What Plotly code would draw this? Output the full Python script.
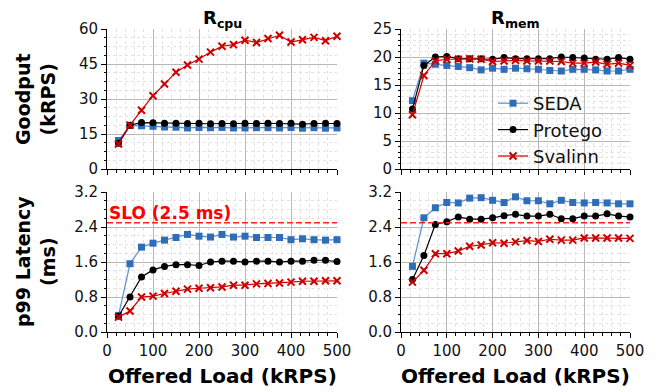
import plotly.graph_objects as go

load = [25, 50, 75, 100, 125, 150, 175, 200, 225, 250, 275, 300, 325, 350, 375, 400, 425, 450, 475, 500]

# Goodput (kRPS) - R_cpu
cpu_good_seda = [12.2, 18.7, 18.5, 18.3, 18.0, 17.9, 17.6, 17.8, 17.7, 17.8, 17.6, 17.6, 17.7, 17.7, 17.6, 17.8, 17.5, 17.7, 17.5, 17.6]
cpu_good_protego = [11.0, 18.8, 19.9, 19.8, 19.6, 19.6, 19.5, 19.6, 19.4, 19.5, 19.4, 19.6, 19.5, 19.6, 19.5, 19.6, 19.2, 19.5, 19.6, 19.5]
cpu_good_svalinn = [10.7, 18.8, 25.2, 31.4, 36.4, 41.5, 44.6, 47.1, 50.1, 52.6, 53.3, 55.2, 54.2, 55.9, 57.3, 54.4, 55.4, 56.4, 55.0, 56.9]

# Goodput (kRPS) - R_mem
mem_good_seda = [12.2, 18.9, 18.7, 18.5, 18.3, 18.1, 17.7, 18.0, 17.8, 18.0, 17.9, 17.8, 17.6, 17.5, 17.8, 17.8, 17.7, 17.5, 17.5, 17.8]
mem_good_protego = [10.7, 18.5, 20.0, 20.1, 19.7, 19.7, 19.7, 19.6, 19.9, 19.7, 19.7, 19.7, 19.7, 20.0, 19.9, 19.8, 19.6, 19.6, 19.9, 19.6]
mem_good_svalinn = [9.7, 16.7, 19.3, 19.6, 19.6, 19.7, 19.6, 19.2, 19.3, 19.4, 19.3, 19.3, 19.3, 19.2, 18.9, 18.9, 19.1, 18.7, 18.9, 18.5]

# p99 latency (ms) - R_cpu
cpu_lat_seda = [0.38, 1.56, 1.94, 2.03, 2.10, 2.16, 2.23, 2.19, 2.17, 2.23, 2.17, 2.19, 2.16, 2.16, 2.16, 2.11, 2.13, 2.11, 2.10, 2.11]
cpu_lat_protego = [0.36, 0.80, 1.26, 1.42, 1.50, 1.54, 1.54, 1.52, 1.60, 1.62, 1.62, 1.60, 1.62, 1.62, 1.60, 1.62, 1.62, 1.64, 1.64, 1.61]
cpu_lat_svalinn = [0.34, 0.48, 0.80, 0.82, 0.88, 0.93, 0.98, 1.00, 1.01, 1.03, 1.07, 1.07, 1.10, 1.11, 1.12, 1.14, 1.16, 1.16, 1.17, 1.17]

# p99 latency (ms) - R_mem
mem_lat_seda = [1.50, 2.61, 2.84, 2.96, 2.95, 3.06, 3.07, 3.01, 2.96, 3.09, 3.00, 3.00, 2.93, 3.01, 2.96, 2.95, 2.96, 2.95, 2.93, 2.93]
mem_lat_protego = [1.20, 1.75, 2.46, 2.52, 2.63, 2.58, 2.58, 2.61, 2.66, 2.69, 2.65, 2.65, 2.69, 2.59, 2.59, 2.65, 2.65, 2.70, 2.65, 2.63]
mem_lat_svalinn = [1.14, 1.41, 1.79, 1.79, 1.85, 1.96, 1.99, 2.04, 2.03, 2.06, 2.09, 2.07, 2.12, 2.10, 2.10, 2.15, 2.15, 2.15, 2.15, 2.14]

slo = 2.5
series_names = ["SEDA", "Protego", "Svalinn"]
x_ticks = [0, 100, 200, 300, 400, 500]

W, H = 667, 392
FONT = "DejaVu Sans"

styles = {
    "SEDA": dict(line=dict(color="#5b8fd2", width=1.2), marker=dict(symbol="square", size=7, color="#2f6db7")),
    "Protego": dict(line=dict(color="#000000", width=1.2), marker=dict(symbol="circle", size=7, color="#000000")),
    "Svalinn": dict(line=dict(color="#cc0000", width=1.2), marker=dict(symbol="x-thin", size=7, color="#cc0000",
                                                                    line=dict(color="#cc0000", width=2))),
}

panels = [
    ("x", "y", [cpu_good_seda, cpu_good_protego, cpu_good_svalinn], True),
    ("x2", "y2", [mem_good_seda, mem_good_protego, mem_good_svalinn], False),
    ("x3", "y3", [cpu_lat_seda, cpu_lat_protego, cpu_lat_svalinn], False),
    ("x4", "y4", [mem_lat_seda, mem_lat_protego, mem_lat_svalinn], False),
]

fig = go.Figure()
for xa, ya, data, show in panels:
    for name, vals in zip(series_names, data):
        fig.add_trace(go.Scatter(x=load, y=vals, mode="lines+markers", name=name,
                                 xaxis=xa, yaxis=ya, showlegend=show, legendgroup=name,
                                 cliponaxis=False, **styles[name]))

# SLO lines
for xa, ya in [("x3", "y3"), ("x4", "y4")]:
    fig.add_trace(go.Scatter(x=[0, 500], y=[slo, slo], mode="lines", xaxis=xa, yaxis=ya,
                             showlegend=False, hoverinfo="skip",
                             line=dict(color="#ff2020", width=1.5, dash="6px,3px")))


def px_x(a, b):
    return [a / W, b / W]


def px_y(top, bottom):
    return [(H - bottom) / H, (H - top) / H]


grid_major = "#b8b8b8"
grid_minor = "#e2e2e2"


def xaxis(domain, anchor, labels):
    return dict(domain=domain, anchor=anchor, range=[0, 500], tickmode="array", tickvals=x_ticks,
                showticklabels=labels, ticks="outside", ticklen=5, tickwidth=1, tickcolor="black",
                showline=True, linecolor="black", linewidth=1, showgrid=True, gridcolor=grid_major,
                gridwidth=1, zeroline=False, automargin=False,
                tickfont=dict(family=FONT, size=15, color="#111"),
                minor=dict(dtick=20, tick0=0, ticks="outside", ticklen=2.5, tickcolor="black",
                           showgrid=True, gridcolor=grid_minor, griddash="dot", gridwidth=1))


def yaxis(domain, anchor, rng, dtick, mdtick, fmt):
    return dict(domain=domain, anchor=anchor, range=rng, tick0=0, dtick=dtick, tickformat=fmt,
                ticks="outside", ticklen=5, tickwidth=1, tickcolor="black",
                showline=True, linecolor="black", linewidth=1, showgrid=True, gridcolor=grid_major,
                gridwidth=1, zeroline=False, automargin=False,
                tickfont=dict(family=FONT, size=15, color="#111"),
                minor=dict(dtick=mdtick, tick0=0, ticks="outside", ticklen=2.5, tickcolor="black",
                           showgrid=True, gridcolor=grid_minor, griddash="dot", gridwidth=1))


LX = px_x(107, 337)
RX = px_x(401, 630)
TY = px_y(29, 169)
BY = px_y(192, 332)

fig.update_layout(
    width=W, height=H,
    margin=dict(l=0, r=0, t=0, b=0, autoexpand=False),
    paper_bgcolor="white", plot_bgcolor="white",
    font=dict(family=FONT, color="black"),
    xaxis=xaxis(LX, "y", False),
    xaxis2=xaxis(RX, "y2", False),
    xaxis3=xaxis(LX, "y3", True),
    xaxis4=xaxis(RX, "y4", True),
    yaxis=yaxis(TY, "x", [0, 60], 15, 3.75, "d"),
    yaxis2=yaxis(TY, "x2", [0, 25], 5, 1, "d"),
    yaxis3=yaxis(BY, "x3", [0, 3.2], 0.8, 0.2, ".1f"),
    yaxis4=yaxis(BY, "x4", [0, 3.2], 0.8, 0.2, ".1f"),
    legend=dict(x=493 / W, y=(H - 85) / H, xanchor="left", yanchor="top",
                bgcolor="rgba(0,0,0,0)", borderwidth=0, tracegroupgap=0,
                font=dict(family=FONT, size=18, color="#111")),
    showlegend=True,
)

ann = []
# panel titles
ann.append(dict(text="<b>R<sub>cpu</sub></b>", x=222 / W, y=(H - 19) / H, xref="paper", yref="paper",
                showarrow=False, font=dict(family=FONT, size=18), xanchor="center", yanchor="middle"))
ann.append(dict(text="<b>R<sub>mem</sub></b>", x=515 / W, y=(H - 19) / H, xref="paper", yref="paper",
                showarrow=False, font=dict(family=FONT, size=18), xanchor="center", yanchor="middle"))
# y titles
ann.append(dict(text="<b>Goodput</b><br><b>(kRPS)</b>", x=36 / W, y=(H - 99) / H, xref="paper", yref="paper",
                showarrow=False, textangle=-90, font=dict(family=FONT, size=19),
                xanchor="center", yanchor="middle"))
ann.append(dict(text="<b>p99 Latency</b><br><b>(ms)</b>", x=35 / W, y=(H - 262) / H, xref="paper", yref="paper",
                showarrow=False, textangle=-90, font=dict(family=FONT, size=19),
                xanchor="center", yanchor="middle"))
# x titles
for cx in (222, 515):
    ann.append(dict(text="<b>Offered Load (kRPS)</b>", x=cx / W, y=(H - 376) / H, xref="paper", yref="paper",
                    showarrow=False, font=dict(family=FONT, size=20), xanchor="center", yanchor="middle"))
# SLO label
ann.append(dict(text="<b>SLO (2.5 ms)</b>", x=0, y=slo, xref="x3", yref="y3", showarrow=False,
                font=dict(family=FONT, size=17, color="#ff0000"), xanchor="left", yanchor="bottom", yshift=-2))
fig.update_layout(annotations=ann)

fig.write_html("out.html", config={"displayModeBar": False},
               post_script="document.body.style.margin='0';document.body.style.overflow='hidden';")
